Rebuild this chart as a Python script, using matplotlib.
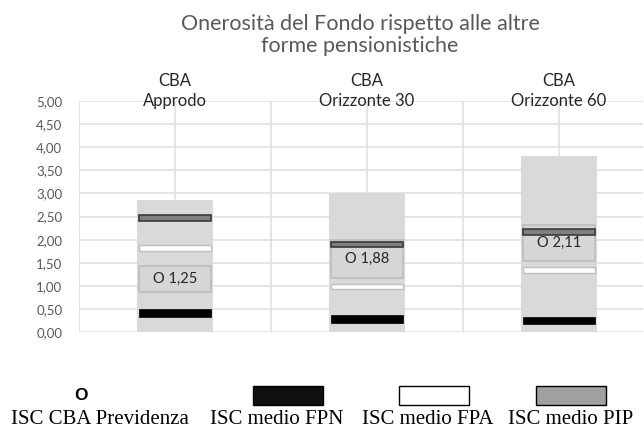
import matplotlib
matplotlib.use('Agg')
import matplotlib.pyplot as plt
from matplotlib.patches import Rectangle

# dati
categories = ['CBA\nApprodo', 'CBA\nOrizzonte 30', 'CBA\nOrizzonte 60']
range_top = [2.85, 3.00, 3.80]
isc_cba = [1.25, 1.88, 2.11]
isc_fpn = [0.42, 0.29, 0.26]
isc_fpa = [1.82, 0.99, 1.35]
isc_pip = [2.47, 1.90, 2.17]
y_ticks = [0, 0.5, 1, 1.5, 2, 2.5, 3, 3.5, 4, 4.5, 5]

# posizione delle etichette (layout)
label_box_y = [1.15, 1.58, 1.93]
label_box_h = [0.58, 0.82, 0.79]

W, H = 644, 428
fig = plt.figure(figsize=(W / 100, H / 100), dpi=100)
SANS = 'Lato'


def fx(px):
    return px / W


def fy(py):
    return 1 - py / H


ax = fig.add_axes([fx(79), fy(332.3), fx(643) - fx(79), fy(100.7) - fy(332.3)])

xpos = [1, 3, 5]
ax.bar(xpos, range_top, width=0.8, color='#d9d9d9', zorder=2)

# riquadri delle etichette ISC CBA
ax.bar(xpos, label_box_h, width=0.76, bottom=[y - h / 2 for y, h in zip(label_box_y, label_box_h)],
       color='#d6d6d6', edgecolor='#bdbdbd', linewidth=1.2, zorder=3)
for x, y, v in zip(xpos, label_box_y, isc_cba):
    ax.text(x, y, 'O ' + f'{v:.2f}'.replace('.', ','), ha='center', va='center',
            fontsize=10.5, family=SANS, color='#262626', zorder=4)


def marker(vals, h, face, edge, lw):
    ax.bar(xpos, [h] * 3, width=0.74, bottom=[v - h / 2 for v in vals],
           color=face, edgecolor=edge, linewidth=lw, zorder=5)


marker(isc_fpn, 0.16, '#000000', '#000000', 0.5)
marker(isc_fpa, 0.12, '#ffffff', '#c0c0c0', 1.0)
marker(isc_pip, 0.12, '#7f7f7f', '#3a3a3a', 1.2)

ax.set_xlim(0, (643 - 79) / 96)
ax.set_ylim(0, 5)
ax.set_yticks(y_ticks)
ax.set_yticklabels([f'{t:.2f}'.replace('.', ',') for t in y_ticks],
                   fontsize=9.5, family=SANS, color='#595959')
ax.set_xticks([0, 1, 2, 3, 4, 5])
ax.set_xticklabels([])
ax.tick_params(length=0, pad=12)
ax.grid(True, color='#e0e0e0', linewidth=1.2, zorder=0)
ax.set_axisbelow(True)
for s in ax.spines.values():
    s.set_visible(False)

for x, c in zip(xpos, categories):
    fig.text(fx(79 + 96 * x), fy(91), c, ha='center', va='center', fontsize=12,
             family=SANS, color='#262626', linespacing=1.25)

fig.text(fx(360), fy(35), 'Onerosità del Fondo rispetto alle altre\nforme pensionistiche',
         ha='center', va='center', fontsize=15.5, family=SANS, color='#595959',
         linespacing=1.1)

# legenda
fig.text(fx(81), fy(396), 'O', ha='center', va='center', fontsize=12.5, weight='bold',
         family='Liberation Sans', color='black')
for x0, face in [(253, '#111111'), (399, '#ffffff'), (536, '#a0a0a0')]:
    fig.add_artist(Rectangle((fx(x0), fy(405)), fx(70), fy(386) - fy(405),
                             transform=fig.transFigure, facecolor=face,
                             edgecolor='black', linewidth=1))
legend_labels = ['ISC CBA Previdenza', 'ISC medio FPN', 'ISC medio FPA', 'ISC medio PIP']
for cx, lab in zip([100, 277, 428, 571], legend_labels):
    fig.text(fx(cx), fy(424), lab, ha='center', va='baseline', fontsize=15,
             family='Liberation Serif', color='black')

fig.savefig('out.png', dpi=100)
